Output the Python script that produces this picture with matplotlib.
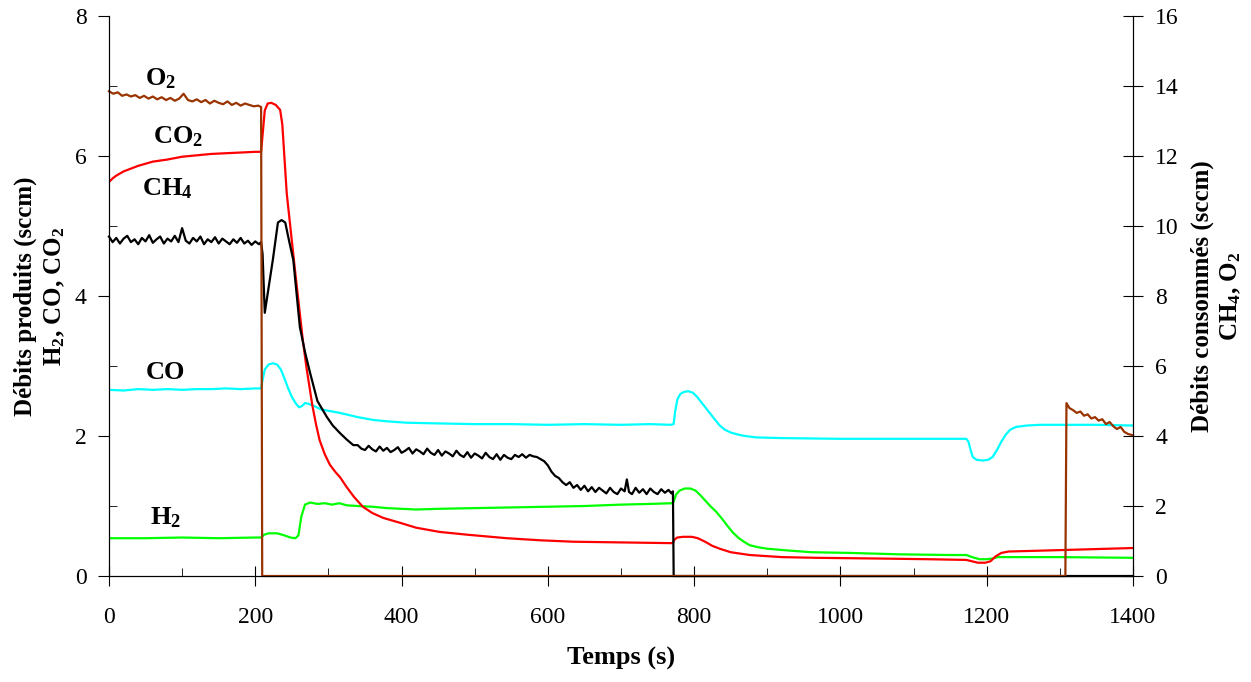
import matplotlib
matplotlib.use("Agg")
import matplotlib.pyplot as plt
from matplotlib.ticker import MultipleLocator

plt.rcParams["font.family"] = ["Liberation Serif", "DejaVu Serif"]
plt.rcParams["mathtext.fontset"] = "custom"
plt.rcParams["mathtext.rm"] = "Liberation Serif:bold"
plt.rcParams["mathtext.bf"] = "Liberation Serif:bold"
plt.rcParams["mathtext.default"] = "bf"

# ------------------------------------------------------------
# Data (time in s, flows in sccm)
# ------------------------------------------------------------
# O2 (right axis)
o2_t = [0, 6, 12, 18, 24, 30, 36, 42, 48, 54, 60, 66, 72, 78, 84, 90, 96, 102,
        108, 114, 120, 126, 132, 138, 144, 150, 156, 162, 168, 174, 180, 186,
        192, 198, 204, 208, 209.5, 1307.5, 1309, 1313, 1318, 1323, 1328, 1333,
        1338, 1343, 1348, 1353, 1358, 1363, 1368, 1373, 1378, 1383, 1388, 1393,
        1400]
o2_v = [13.85, 13.78, 13.82, 13.72, 13.76, 13.70, 13.74, 13.66, 13.72, 13.64,
        13.70, 13.62, 13.68, 13.60, 13.66, 13.58, 13.64, 13.78, 13.60, 13.56,
        13.62, 13.54, 13.60, 13.50, 13.58, 13.52, 13.48, 13.56, 13.46, 13.52,
        13.44, 13.50, 13.46, 13.42, 13.44, 13.40, 0.0, 0.0, 4.94, 4.80, 4.74,
        4.66, 4.70, 4.58, 4.62, 4.50, 4.54, 4.44, 4.48, 4.34, 4.40, 4.28, 4.20,
        4.26, 4.12, 4.06, 4.02]

# CO2 (left axis)
co2_t = [0, 5, 10, 20, 30, 40, 50, 60, 80, 100, 120, 140, 160, 180, 200, 208,
         210, 213, 217, 222, 228, 234, 237, 243, 254, 265, 270, 278, 283, 288,
         295, 302, 310, 316, 325, 335, 347, 360, 375, 398, 420, 452, 490, 544,
         590, 635, 700, 767, 771, 773, 777, 785, 797, 805, 815, 825, 835, 850,
         876, 920, 968, 1050, 1120, 1172, 1180, 1188, 1198, 1205, 1212, 1220,
         1230, 1300, 1400]
co2_v = [5.63, 5.68, 5.72, 5.78, 5.82, 5.86, 5.89, 5.92, 5.95, 5.99, 6.01,
         6.03, 6.04, 6.05, 6.06, 6.06, 6.30, 6.65, 6.75, 6.76, 6.73, 6.66,
         6.45, 5.47, 4.40, 3.37, 2.98, 2.44, 2.17, 1.94, 1.74, 1.59, 1.48,
         1.41, 1.27, 1.13, 0.99, 0.90, 0.83, 0.76, 0.69, 0.63, 0.59, 0.54,
         0.51, 0.49, 0.48, 0.47, 0.47, 0.52, 0.55, 0.56, 0.56, 0.54, 0.49,
         0.43, 0.39, 0.34, 0.30, 0.27, 0.26, 0.25, 0.24, 0.23, 0.21, 0.19,
         0.19, 0.21, 0.28, 0.33, 0.35, 0.37, 0.40]

# CH4 (right axis)
ch4_t = [0, 5, 10, 15, 20, 25, 30, 35, 40, 45, 50, 55, 60, 65, 70, 75, 80, 85,
         90, 95, 100, 105, 110, 115, 120, 125, 130, 135, 140, 145, 150, 155,
         160, 165, 170, 175, 180, 185, 190, 195, 200, 205, 208,
         210, 213, 218, 224, 231, 236, 241, 246, 252, 261, 268, 275, 285, 298,
         306, 316, 325, 334,
         340, 345, 350, 355, 360, 365, 370, 375, 380, 385, 390, 395, 400, 405,
         410, 415, 420, 425, 430, 435, 440, 445, 450, 455, 460, 465, 470, 475,
         480, 485, 490, 495, 500, 505, 510, 515, 520, 525, 530, 535, 540, 545,
         550, 555, 560, 565, 570, 575, 580, 585, 590, 595, 600, 605, 610, 615,
         620, 625, 630, 635, 640, 645, 650, 655, 660, 665, 670, 675, 680, 685,
         690, 695, 700, 705, 708, 711, 715, 720, 725, 730, 735, 740, 745, 750,
         755, 760, 765, 769, 771, 772, 1400]
ch4_v = [9.70, 9.54, 9.66, 9.50, 9.64, 9.72, 9.54, 9.62, 9.48, 9.66, 9.56,
         9.74, 9.52, 9.62, 9.70, 9.50, 9.64, 9.56, 9.72, 9.54, 9.94, 9.58,
         9.50, 9.66, 9.56, 9.70, 9.48, 9.62, 9.54, 9.68, 9.50, 9.64, 9.56,
         9.48, 9.62, 9.52, 9.66, 9.50, 9.58, 9.46, 9.56, 9.48, 9.54,
         9.20, 7.52, 8.20, 9.03, 10.10, 10.17, 10.10, 9.60, 9.03, 7.11, 6.40,
         5.80, 5.00, 4.54, 4.30, 4.08, 3.90, 3.74,
         3.74, 3.64, 3.60, 3.72, 3.62, 3.56, 3.70, 3.58, 3.66, 3.54, 3.60,
         3.68, 3.52, 3.58, 3.66, 3.50, 3.62, 3.56, 3.48, 3.64, 3.52, 3.46,
         3.60, 3.44, 3.56, 3.50, 3.42, 3.58, 3.46, 3.40, 3.54, 3.38, 3.50,
         3.44, 3.36, 3.52, 3.40, 3.34, 3.48, 3.32, 3.46, 3.38, 3.34, 3.46,
         3.40, 3.48, 3.38, 3.46, 3.42, 3.40, 3.34, 3.28, 3.16, 2.98, 2.86,
         2.80, 2.68, 2.60, 2.68, 2.52, 2.60, 2.46, 2.58, 2.42, 2.54, 2.40,
         2.52, 2.44, 2.36, 2.52, 2.40, 2.34, 2.50, 2.42, 2.76, 2.40, 2.34,
         2.52, 2.38, 2.48, 2.34, 2.50, 2.40, 2.34, 2.48, 2.38, 2.46, 2.36,
         2.42, 0.0, 0.0]

# CO (left axis)
co_t = [0, 20, 40, 60, 80, 100, 120, 140, 160, 180, 200, 208, 210, 213, 218,
        224, 230, 235, 240, 245, 250, 255, 260, 264, 268, 273, 280, 290, 300,
        316, 340, 361, 380, 407, 450, 500, 550, 600, 650, 700, 740, 768, 772,
        774, 777, 781, 786, 792, 798, 804, 810, 816, 822, 828, 835, 842, 850,
        860, 870, 885, 922, 1000, 1100, 1172, 1175, 1178, 1181, 1186, 1195,
        1202, 1208, 1214, 1220, 1226, 1232, 1240, 1255, 1273, 1300, 1350,
        1400]
co_v = [2.66, 2.65, 2.67, 2.66, 2.67, 2.66, 2.67, 2.67, 2.68, 2.67, 2.68,
        2.68, 2.80, 2.95, 3.02, 3.04, 3.02, 2.95, 2.82, 2.68, 2.56, 2.47,
        2.41, 2.43, 2.47, 2.46, 2.43, 2.38, 2.36, 2.33, 2.27, 2.23, 2.21,
        2.19, 2.18, 2.17, 2.17, 2.16, 2.17, 2.16, 2.17, 2.16, 2.17, 2.35,
        2.52, 2.60, 2.63, 2.64, 2.62, 2.56, 2.48, 2.40, 2.32, 2.24, 2.15,
        2.09, 2.05, 2.02, 2.00, 1.98, 1.97, 1.96, 1.96, 1.96, 1.92, 1.80,
        1.70, 1.66, 1.65, 1.66, 1.70, 1.80, 1.92, 2.02, 2.09, 2.13, 2.15,
        2.16, 2.16, 2.16, 2.15]

# H2 (left axis)
h2_t = [0, 50, 100, 150, 200, 208, 212, 218, 230, 240, 248, 255, 259, 263,
        268, 275, 285, 295, 305, 315, 325, 340, 360, 380, 400, 420, 450, 500,
        550, 600, 650, 700, 740, 770, 772, 775, 780, 787, 795, 802, 808, 815,
        822, 830, 838, 846, 853, 860, 868, 876, 888, 900, 922, 960, 1013,
        1080, 1150, 1172, 1180, 1190, 1200, 1208, 1215, 1300, 1400]
h2_v = [0.54, 0.54, 0.55, 0.54, 0.55, 0.55, 0.59, 0.61, 0.61, 0.58, 0.55,
        0.54, 0.58, 0.85, 1.02, 1.05, 1.03, 1.04, 1.02, 1.04, 1.01, 1.00,
        0.99, 0.97, 0.96, 0.95, 0.96, 0.97, 0.98, 0.99, 1.00, 1.02, 1.03,
        1.04, 1.06, 1.16, 1.22, 1.25, 1.25, 1.22, 1.16, 1.08, 1.00, 0.92,
        0.82, 0.71, 0.62, 0.55, 0.49, 0.44, 0.41, 0.39, 0.37, 0.34, 0.33,
        0.31, 0.30, 0.30, 0.27, 0.24, 0.24, 0.25, 0.27, 0.27, 0.26]

BROWN = "#993300"

fig = plt.figure(figsize=(12.51, 6.82), dpi=100)
ax = fig.add_axes([0.0871, 0.1554, 0.8186, 0.8211])
ax2 = ax.twinx()

ax.plot(co_t, co_v, color="#00FFFF", lw=1.6)
ax.plot(h2_t, h2_v, color="#00FF00", lw=1.6)
ax.plot(co2_t, co2_v, color="#FF0000", lw=1.6)
ax2.plot(ch4_t, ch4_v, color="black", lw=1.6, clip_on=False)
ax2.plot(o2_t, o2_v, color=BROWN, lw=1.6, clip_on=False)

ax.set_xlim(0, 1400)
ax.set_ylim(0, 8)
ax2.set_ylim(0, 16)

for a in (ax, ax2):
    a.spines["top"].set_visible(False)

ax.xaxis.set_major_locator(MultipleLocator(200))
ax.xaxis.set_minor_locator(MultipleLocator(100))
ax.yaxis.set_major_locator(MultipleLocator(2))
ax.yaxis.set_minor_locator(MultipleLocator(1))
ax2.yaxis.set_major_locator(MultipleLocator(2))

ax.tick_params(axis="x", which="major", direction="inout", length=14, labelsize=17, pad=15)
ax.tick_params(axis="x", which="minor", direction="in", length=6)
ax.tick_params(axis="y", which="major", direction="out", length=8, labelsize=17, pad=8)
ax.tick_params(axis="y", which="minor", direction="in", length=6)
ax2.tick_params(axis="y", which="major", direction="inout", length=14, labelsize=17, pad=9)

ax.set_xlabel("Temps (s)", fontsize=19, fontweight="bold", labelpad=14)
ax.set_ylabel("Débits produits (sccm)\nH$_2$, CO, CO$_2$", fontsize=18,
              fontweight="bold", linespacing=1.25, labelpad=6)
ax2.set_ylabel("Débits consommés (sccm)\nCH$_4$, O$_2$", fontsize=18,
               fontweight="bold", rotation=90, linespacing=1.25, labelpad=8)

# series labels
lab_kw = dict(fontsize=19, fontweight="bold", ha="center", va="center")
ax.text(70, 7.11, "O$_2$", **lab_kw)
ax.text(94, 6.27, "CO$_2$", **lab_kw)
ax.text(80, 5.54, "CH$_4$", **lab_kw)
ax.text(77, 2.91, "CO", **lab_kw)
ax.text(77, 0.83, "H$_2$", **lab_kw)

fig.savefig("out.png", dpi=100)
